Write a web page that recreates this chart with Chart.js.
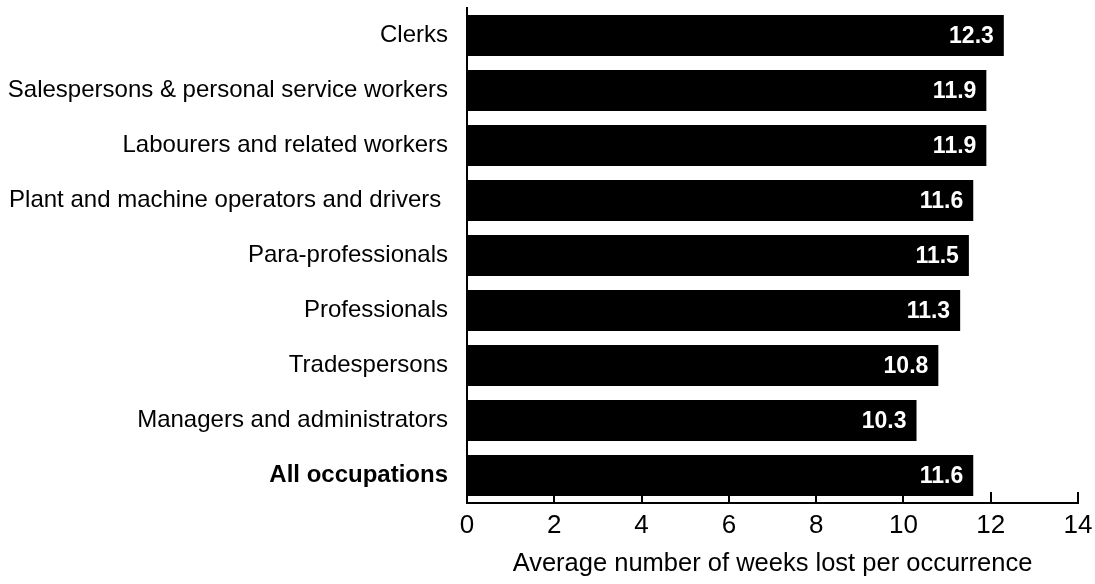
<!DOCTYPE html>
<html>
<head>
<meta charset="utf-8">
<script src="https://cdn.jsdelivr.net/npm/chart.js@4/dist/chart.umd.min.js"></script>
<style>
  html, body { margin: 0; padding: 0; background: #fff; }
  canvas { display: block; }
</style>
</head>
<body>
<canvas id="chart" width="1095" height="584"></canvas>
<script>
const categories = [
    'Clerks',
    'Salespersons & personal service workers',
    'Labourers and related workers',
    'Plant and machine operators and drivers ',
    'Para-professionals',
    'Professionals',
    'Tradespersons',
    'Managers and administrators',
    'All occupations'
];
const weeksLost = [12.3, 11.9, 11.9, 11.6, 11.5, 11.3, 10.8, 10.3, 11.6];
const xTicks = [0, 2, 4, 6, 8, 10, 12, 14];
const xTitle = 'Average number of weeks lost per occurrence';

const FONT = 'Arial, "Liberation Sans", sans-serif';

// white labels at the end of each bar
const barLabels = {
    id: 'barLabels',
    afterDatasetsDraw(chart) {
        const ctx = chart.ctx;
        const meta = chart.getDatasetMeta(0);
        ctx.save();
        ctx.fillStyle = '#fff';
        ctx.font = 'bold 23px ' + FONT;
        ctx.textAlign = 'right';
        ctx.textBaseline = 'middle';
        meta.data.forEach((bar, i) => {
            ctx.fillText(weeksLost[i].toFixed(1), bar.x - 10, bar.y + 1);
        });
        ctx.restore();
    }
};

// tick marks pointing up from the x axis
const upTicks = {
    id: 'upTicks',
    afterDraw(chart) {
        const ctx = chart.ctx;
        const x = chart.scales.x;
        ctx.save();
        ctx.strokeStyle = '#000';
        ctx.lineWidth = 2;
        xTicks.forEach(v => {
            const px = Math.round(x.getPixelForValue(v));
            ctx.beginPath();
            ctx.moveTo(px, x.top);
            ctx.lineTo(px, x.top - 11);
            ctx.stroke();
        });
        ctx.restore();
    }
};

new Chart(document.getElementById('chart'), {
    type: 'bar',
    data: {
        labels: categories,
        datasets: [{
            data: weeksLost,
            backgroundColor: '#000',
            borderWidth: 0,
            categoryPercentage: 0.745,
            barPercentage: 1
        }]
    },
    options: {
        indexAxis: 'y',
        responsive: false,
        devicePixelRatio: 1,
        animation: false,
        layout: { padding: { top: 8, right: 17, left: 0, bottom: 0 } },
        plugins: {
            legend: { display: false },
            tooltip: { enabled: false }
        },
        scales: {
            x: {
                min: 0,
                max: 14,
                afterBuildTicks(scale) {
                    scale.ticks = xTicks.map(v => ({ value: v }));
                },
                afterFit(scale) {
                    scale.height = 81;
                    scale.paddingLeft = 0;
                    scale.paddingRight = 0;
                },
                grid: { display: false, drawTicks: false },
                border: { display: true, color: '#000', width: 2 },
                ticks: {
                    color: '#000',
                    padding: 7,
                    font: { family: FONT, size: 26 }
                },
                title: {
                    display: true,
                    text: xTitle,
                    color: '#000',
                    font: { family: FONT, size: 25.5 },
                    padding: { top: 10, bottom: 5 }
                }
            },
            y: {
                afterFit(scale) {
                    scale.width = 467;
                    scale.paddingTop = 0;
                    scale.paddingBottom = 0;
                },
                grid: { display: false, drawTicks: false },
                border: { display: true, color: '#000', width: 2 },
                ticks: {
                    color: '#000',
                    padding: 19,
                    font: ctx => ({
                        family: FONT,
                        size: 24,
                        weight: ctx.index === categories.length - 1 ? 'bold' : 'normal'
                    })
                }
            }
        }
    },
    plugins: [barLabels, upTicks]
});
</script>
</body>
</html>
